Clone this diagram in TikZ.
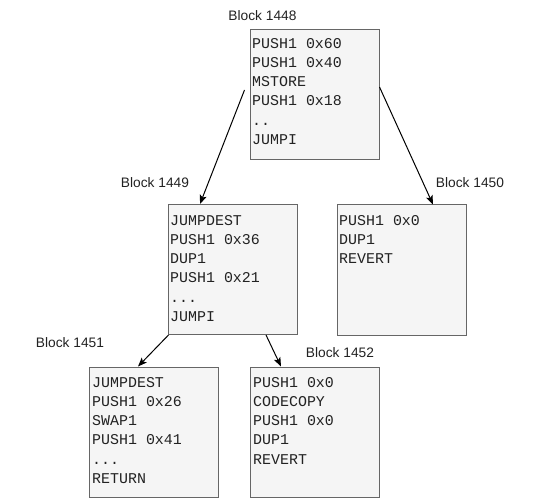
\documentclass[tikz,border=0pt]{standalone}
\usepackage{fontspec}
\setmainfont{Liberation Sans}
\newfontfamily\codefont{Liberation Mono}
\usetikzlibrary{calc,arrows.meta}
\definecolor{boxfill}{HTML}{F5F5F5}
\definecolor{boxline}{HTML}{666666}
\definecolor{codetext}{HTML}{222222}
\begin{document}
\begin{tikzpicture}[x=1bp,y=-1bp,
  blockbox/.style={draw=boxline, fill=boxfill, line width=1bp, rectangle, inner sep=0,
    minimum width=129bp, minimum height=130bp},
  codeline/.style={anchor=base west, inner sep=0, font=\codefont\fontsize{15}{19}\selectfont, text=codetext},
  blocklabel/.style={inner sep=0, font=\fontsize{13.8}{16}\selectfont, text=codetext},
  flow/.style={line width=1bp, -{Stealth[length=9bp,width=7bp,inset=2bp]}}]
\useasboundingbox (0,0) rectangle (541,498);

% boxes
\node[blockbox] (b1448) at (314.5,95) {};
\node[blockbox] (b1449) at (232.5,269.5) {};
\node[blockbox] (b1450) at (402,270) {};
\node[blockbox] (b1451) at (154,432) {};
\node[blockbox] (b1452) at (315,432) {};

% labels
\node[blocklabel] (l1448) at (262.5,16) {Block 1448};
\node[blocklabel] (l1449) at (155,183) {Block 1449};
\node[blocklabel] (l1450) at (470,183) {Block 1450};
\node[blocklabel] (l1451) at (70,343) {Block 1451};
\node[blocklabel] (l1452) at (340,353) {Block 1452};

% code of block 1448
\node[codeline] (c1448a) at (252,49) {PUSH1 0x60};
\node[codeline] (c1448b) at (252,68) {PUSH1 0x40};
\node[codeline] (c1448c) at (252,87) {MSTORE};
\node[codeline] (c1448d) at (252,106) {PUSH1 0x18};
\node[codeline] (c1448e) at (252,126) {..};
\node[codeline] (c1448f) at (252,145) {JUMPI};

% code of block 1449
\node[codeline] (c1449a) at (170,225) {JUMPDEST};
\node[codeline] (c1449b) at (170,244) {PUSH1 0x36};
\node[codeline] (c1449c) at (170,263) {DUP1};
\node[codeline] (c1449d) at (170,282) {PUSH1 0x21};
\node[codeline] (c1449e) at (170,302) {...};
\node[codeline] (c1449f) at (170,321) {JUMPI};

% code of block 1450
\node[codeline] (c1450a) at (339,225) {PUSH1 0x0};
\node[codeline] (c1450b) at (339,244) {DUP1};
\node[codeline] (c1450c) at (339,263) {REVERT};

% code of block 1451
\node[codeline] (c1451a) at (92,387) {JUMPDEST};
\node[codeline] (c1451b) at (92,406) {PUSH1 0x26};
\node[codeline] (c1451c) at (92,425) {SWAP1};
\node[codeline] (c1451d) at (92,444) {PUSH1 0x41};
\node[codeline] (c1451e) at (92,464) {...};
\node[codeline] (c1451f) at (92,483) {RETURN};

% code of block 1452
\node[codeline] (c1452a) at (253,387) {PUSH1 0x0};
\node[codeline] (c1452b) at (253,406) {CODECOPY};
\node[codeline] (c1452c) at (253,425) {PUSH1 0x0};
\node[codeline] (c1452d) at (253,444) {DUP1};
\node[codeline] (c1452e) at (253,464) {REVERT};

% connectors
\draw[flow] ($(b1448.west)+(-5,-5)$) -- ($(b1449.north)+(-32.5,0)$);
\draw[flow] ($(b1448.east)+(0,-8)$) -- ($(b1450.north)+(31,0)$);
\draw[flow] ($(b1449.south west)+(1,0)$) -- ($(b1451.north)+(-16,0)$);
\draw[flow] ($(b1449.south)+(33.5,0)$) -- ($(b1452.north)+(-34,0)$);
\end{tikzpicture}
\end{document}
